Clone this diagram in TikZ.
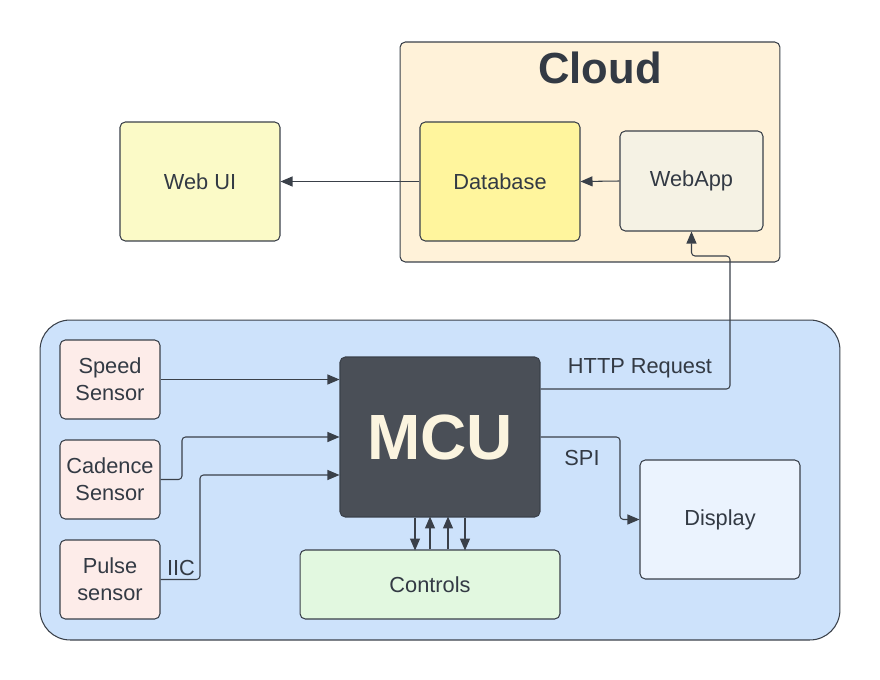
\documentclass[tikz,border=0pt]{standalone}
\usepackage{fontspec}
\setmainfont{Liberation Sans}
\usepackage{tikz}
\usetikzlibrary{arrows.meta}
\definecolor{colorLine}{HTML}{3A4049}
\definecolor{colorText}{HTML}{333A44}
\definecolor{colorCloud}{HTML}{FFF2D9}
\definecolor{colorBoard}{HTML}{CDE2FB}
\definecolor{colorWebUI}{HTML}{FBFAC7}
\definecolor{colorDB}{HTML}{FFF59D}
\definecolor{colorApp}{HTML}{F5F2E4}
\definecolor{colorSensor}{HTML}{FDECE9}
\definecolor{colorMCU}{HTML}{4A4F57}
\definecolor{colorMCUText}{HTML}{FBF4DF}
\definecolor{colorCtrl}{HTML}{E2F8E0}
\definecolor{colorDisp}{HTML}{EBF3FE}
\tikzset{
    block/.style={draw=colorLine, line width=0.6pt, rounded corners=3pt, text=colorText,
        font=\fontsize{12.4}{15.3}\selectfont, align=center, inner sep=0pt},
    link/.style={draw=colorLine, line width=0.6pt, rounded corners=2pt,
        -{Triangle[length=0.24cm,width=0.2cm]}},
    tag/.style={text=colorText, font=\fontsize{12.4}{15.3}\selectfont, inner sep=0pt},
}
\begin{document}
\begin{tikzpicture}[x=0.02cm,y=-0.02cm]
        \useasboundingbox (0,0) rectangle (880,680);
        % groups
        \node[block, fill=colorCloud, minimum width=7.6cm, minimum height=4.4cm] (cloud) at (590,152) {};
        \node[text=colorText, font=\bfseries\fontsize{24.8}{28}\selectfont, inner sep=0pt] (cloudtitle) at (600,68) {Cloud};
        \node[block, fill=colorBoard, rounded corners=0.6cm, minimum width=16cm, minimum height=6.4cm] (board) at (440,480) {};
        % cloud side
        \node[block, fill=colorWebUI, minimum width=3.2cm, minimum height=2.38cm] (webui) at (200,181.5) {Web UI};
        \node[block, fill=colorDB, minimum width=3.2cm, minimum height=2.38cm] (database) at (500,181.5) {Database};
        \node[block, fill=colorApp, minimum width=2.86cm, minimum height=2cm] (webapp) at (691.5,181) {WebApp};
        % device side
        \node[block, fill=colorSensor, minimum width=2cm, minimum height=1.58cm] (speed) at (110,379.5) {Speed\\Sensor};
        \node[block, fill=colorSensor, minimum width=2cm, minimum height=1.58cm] (cadence) at (110,479.5) {Cadence\\Sensor};
        \node[block, fill=colorSensor, minimum width=2cm, minimum height=1.58cm] (pulse) at (110,579.5) {Pulse\\sensor};
        \node[block, fill=colorMCU, text=colorMCUText, font=\bfseries\fontsize{36.4}{40}\selectfont,
            minimum width=4cm, minimum height=3.2cm] (mcu) at (440,437) {MCU};
        \node[block, fill=colorCtrl, minimum width=5.2cm, minimum height=1.38cm] (controls) at (430,584.5) {Controls};
        \node[block, fill=colorDisp, minimum width=3.2cm, minimum height=2.38cm] (display) at (720,519.5) {Display};
        % connectors
        \draw[link] (webapp.west) -- (database.east);
        \draw[link] (database.west) -- (webui.east);
        \draw[link] (speed.east) -- (speed.east -| mcu.west);
        \draw[link] (cadence.east) -- (182,479.5) |- (mcu.west);
        \draw[link] (pulse.east) -- (200,579.5) |- ([yshift=-0.76cm]mcu.west);
        \draw[link] ([yshift=0.96cm]mcu.east) -- (730,389) -- (730,256) -| (webapp.south);
        \draw[link] (mcu.east) -- (620,437) |- (display.west);
        \draw[link] ([xshift=-0.5cm]mcu.south) -- ++(0,33);
        \draw[link] (controls.north) -- ++(0,-33);
        \draw[link] ([xshift=0.36cm]controls.north) -- ++(0,-33);
        \draw[link] ([xshift=0.5cm]mcu.south) -- ++(0,33);
        % labels
        \node[tag] (httplabel) at (640,368) {HTTP Request};
        \node[tag] (spilabel) at (582,458) {SPI};
        \node[tag] (iiclabel) at (181,568) {IIC};
    \end{tikzpicture}
\end{document}
